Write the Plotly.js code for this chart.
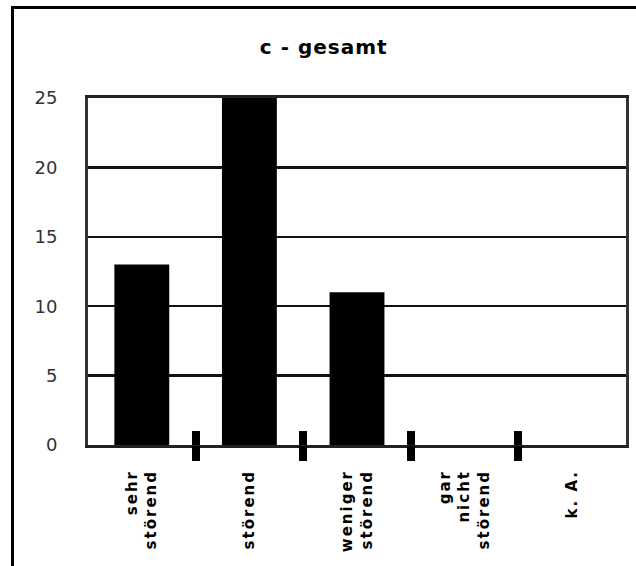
<!DOCTYPE html>
<html>
<head>
<meta charset="utf-8">
<script src="https://cdn.plot.ly/plotly-3.0.1.min.js"></script>
<style>
  html, body { margin: 0; padding: 0; background: #fff; }
  #wrap { position: relative; width: 636px; height: 566px; overflow: hidden; }
  #chart { position: absolute; left: 0; top: 0; width: 636px; height: 566px; }
  #frame { position: absolute; left: 11px; top: 6px; width: 640px; height: 600px;
           border-top: 3px solid #000; border-left: 3px solid #000; pointer-events: none; }
  #chart .xtick text { letter-spacing: 2px; }
  #chart .gtitle { letter-spacing: 1px; }
</style>
</head>
<body>
<div id="wrap">
  <div id="chart"></div>
  <div id="frame"></div>
</div>
<script>
const chartTitle = "c - gesamt";
const categories = ["sehr<br>störend", "störend", "weniger<br>störend", "gar<br>nicht<br>störend", "k. A."];
const values = [13, 25, 11, 0, 0];
const yTicks = [0, 5, 10, 15, 20, 25];

const boundaries = categories.slice(1).map((_, i) => i + 0.5);
const xRange = [-0.5, categories.length - 0.5];

const helper = (xa) => ({
  type: "scatter",
  mode: "markers",
  x: boundaries,
  y: boundaries.map(() => 0),
  xaxis: xa,
  yaxis: "y",
  marker: { opacity: 0, size: 1 },
  hoverinfo: "skip",
  showlegend: false
});

const traces = [{
  type: "bar",
  x: categories,
  y: values,
  marker: { color: "#000" },
  hoverinfo: "x+y"
}, helper("x2"), helper("x3")];

const tickAxis = (inside) => ({
  overlaying: "x",
  anchor: "y",
  side: "bottom",
  type: "linear",
  range: xRange,
  tickmode: "array",
  tickvals: boundaries,
  ticks: inside ? "inside" : "outside",
  ticklen: inside ? 14 : 15,
  tickwidth: 8,
  tickcolor: "#000",
  showticklabels: false,
  showgrid: false,
  showline: false,
  zeroline: false,
  fixedrange: true
});

const layout = {
  width: 636,
  height: 566,
  margin: { l: 88, r: 10, t: 98, b: 121 },
  paper_bgcolor: "#fff",
  plot_bgcolor: "#fff",
  showlegend: false,
  bargap: 0.49,
  title: {
    text: chartTitle,
    font: { family: "DejaVu Sans", size: 20, weight: "bold", color: "#000" },
    x: 0.509, xanchor: "center", xref: "container",
    y: 0.917, yanchor: "middle", yref: "container"
  },
  xaxis: {
    type: "category",
    range: xRange,
    ticks: "",
    tickangle: -90,
    ticklabelstandoff: 16,
    tickfont: { family: "DejaVu Sans", size: 15, weight: "bold", color: "#000" },
    showline: true, linecolor: "#222", linewidth: 3, mirror: true,
    showgrid: false, zeroline: false, automargin: false, fixedrange: true
  },
  xaxis2: tickAxis(false),
  xaxis3: tickAxis(true),
  yaxis: {
    range: [0, 25],
    tickmode: "array",
    tickvals: yTicks,
    ticks: "",
    ticklabelstandoff: 24,
    tickfont: { family: "DejaVu Sans", size: 18, color: "#333" },
    showline: true, linecolor: "#333", linewidth: 3, mirror: true,
    showgrid: true, gridcolor: "#111", gridwidth: 2.5,
    zeroline: false, automargin: false, fixedrange: true
  }
};

Plotly.newPlot("chart", traces, layout, { displayModeBar: false, staticPlot: true });
</script>
</body>
</html>
